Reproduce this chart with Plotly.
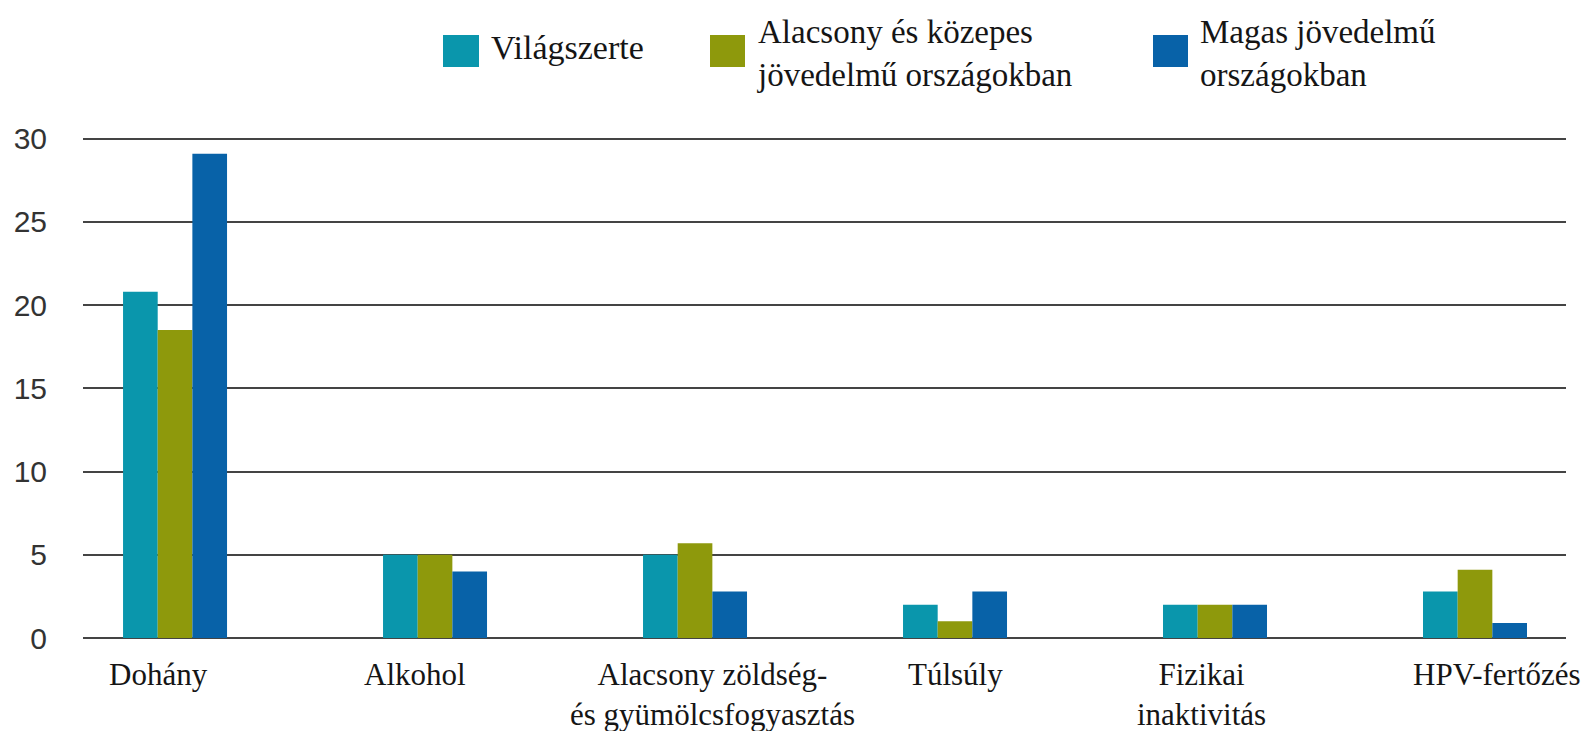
import plotly.graph_objects as go

categories = ["Dohány", "Alkohol", "Alacsony zöldség- és gyümölcsfogyasztás",
              "Túlsúly", "Fizikai inaktivitás", "HPV-fertőzés"]
cat_labels = ["Dohány", "Alkohol", "Alacsony zöldség-<br>és gyümölcsfogyasztás",
              "Túlsúly", "Fizikai<br>inaktivitás", "HPV-fertőzés"]
series_names = ["Világszerte", "Alacsony és közepes jövedelmű országokban",
                "Magas jövedelmű országokban"]
legend_labels = ["Világszerte", "Alacsony és közepes<br>jövedelmű országokban",
                 "Magas jövedelmű<br>országokban"]
vilagszerte = [20.8, 5, 5, 2, 2, 2.8]
alacsony_kozepes = [18.5, 5, 5.7, 1, 2, 4.1]
magas = [29.1, 4, 2.8, 2.8, 2, 0.9]
y_ticks = [0, 5, 10, 15, 20, 25, 30]

colors = ["#0A96AC", "#8E990C", "#0862A8"]
values = [vilagszerte, alacsony_kozepes, magas]

W, H = 1594, 731
L, R, T, B = 75, 1558, 129, 630
PW, PH = R - L, B - T


def xp(X):
    return (X - L) / PW


def yp(Y):
    return (B - Y) / PH


fig = go.Figure()
for name, vals, col in zip(series_names, values, colors):
    fig.add_trace(go.Bar(x=list(range(len(categories))), y=vals, name=name,
                         marker=dict(color=col, line=dict(width=0)),
                         showlegend=False, hovertext=categories))

serif = "Liberation Serif, Times New Roman, serif"
annotations = []
# category labels (below axis)
label_xshift = [-17, -20, 17, 0, -14, 22]
for i, txt in enumerate(cat_labels):
    annotations.append(dict(x=i, xref="x", y=yp(647), yref="paper", text=txt,
                            showarrow=False, xanchor="center", yanchor="top",
                            xshift=label_xshift[i],
                            font=dict(family=serif, size=31, color="#151515")))

# custom legend
sq = [(435, 471), (702, 737), (1145, 1180)]
text_left = [481, 747, 1190]
text_mid = [40, 45, 45]
text_size = [34, 33, 33]
for k in range(3):
    fig.add_shape(type="rect", xref="paper", yref="paper",
                  x0=xp(sq[k][0]), x1=xp(sq[k][1]), y0=yp(59), y1=yp(27),
                  fillcolor=colors[k], line=dict(width=0))
    annotations.append(dict(x=xp(text_left[k]), xref="paper", y=yp(text_mid[k]), yref="paper",
                            text=legend_labels[k], showarrow=False, xanchor="left",
                            yanchor="middle", align="left",
                            font=dict(family=serif, size=text_size[k], color="#151515")))

fig.update_layout(
    width=W, height=H,
    margin=dict(l=L, r=W - R, t=T, b=H - B, autoexpand=False),
    paper_bgcolor="white", plot_bgcolor="white",
    barmode="group", bargap=0.6, bargroupgap=0,
    annotations=annotations,
    xaxis=dict(range=[-0.354, 5.350], showticklabels=False, showgrid=False,
               zeroline=False, showline=False, ticks="", automargin=False),
    yaxis=dict(range=[0, 30.1], tickvals=y_ticks, showgrid=True, gridcolor="#444444",
               gridwidth=2, zeroline=True, zerolinecolor="#444444", zerolinewidth=2,
               showline=False, ticks="", ticklabelstandoff=35, automargin=False,
               tickfont=dict(family="Liberation Sans, Arial, sans-serif", size=30,
                             color="#333333")),
)

fig.write_html("out.html")
